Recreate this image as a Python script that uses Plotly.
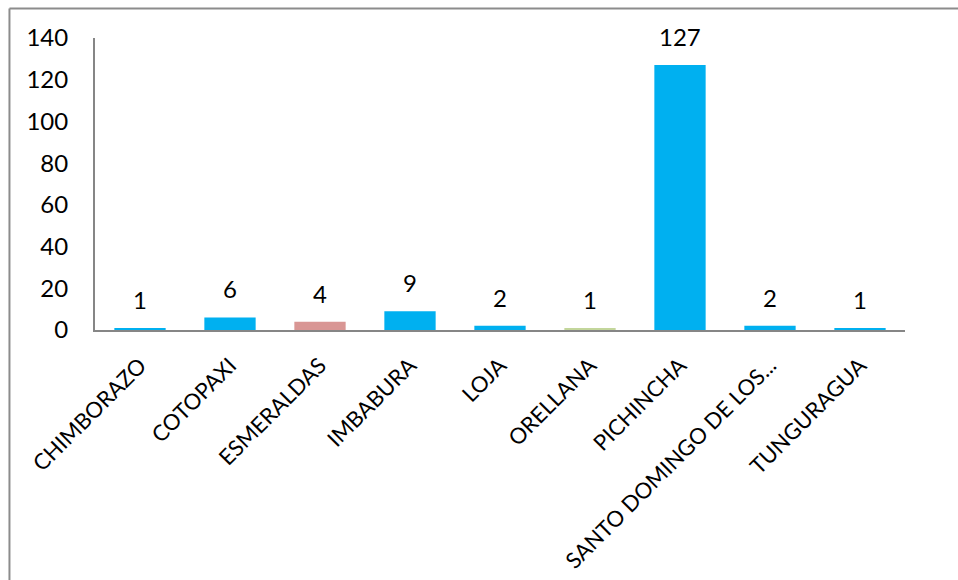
import plotly.graph_objects as go

provincias = ["CHIMBORAZO", "COTOPAXI", "ESMERALDAS", "IMBABURA", "LOJA",
              "ORELLANA", "PICHINCHA", "SANTO DOMINGO DE LOS...", "TUNGURAGUA"]
casos = [1, 6, 4, 9, 2, 1, 127, 2, 1]
colores = ["#00B0F0", "#00B0F0", "#D99694", "#00B0F0", "#00B0F0",
           "#C3D69B", "#00B0F0", "#00B0F0", "#00B0F0"]
y_ticks = [0, 20, 40, 60, 80, 100, 120, 140]

FONT = "Lato, 'Open Sans', sans-serif"

fig = go.Figure(go.Bar(
    x=provincias, y=casos,
    marker=dict(color=colores, line=dict(width=0)),
    hoverinfo="x+y",
))

# value labels above each bar
for p, v in zip(provincias, casos):
    fig.add_annotation(x=p, y=v, text=str(v), showarrow=False,
                       yanchor="bottom", yshift=12,
                       font=dict(family=FONT, size=24, color="#000000"))

# outer chart frame (top and left edges)
frame = dict(color="#8C8C8C", width=2)
fig.add_shape(type="line", xref="paper", yref="paper",
              x0=-0.1056, x1=1.2, y0=1.101, y1=1.101, line=frame)
fig.add_shape(type="line", xref="paper", yref="paper",
              x0=-0.1056, x1=-0.1056, y0=1.101, y1=-1.0, line=frame)

fig.update_layout(
    width=958, height=580,
    margin=dict(l=95, r=53, t=38, b=250),
    paper_bgcolor="white", plot_bgcolor="white",
    bargap=0.43, showlegend=False,
    font=dict(family=FONT, size=22, color="#000000"),
)
fig.update_xaxes(
    showline=True, linecolor="#868686", linewidth=2,
    ticks="", tickangle=-45, showgrid=False, automargin=False,
    tickfont=dict(family=FONT, size=22, color="#000000"),
    ticklabelstandoff=12,
)
fig.update_yaxes(
    range=[0, 140], tickvals=y_ticks, ticktext=[str(t) for t in y_ticks],
    showline=True, linecolor="#868686", linewidth=2,
    showgrid=False, zeroline=False, ticks="", automargin=False,
    tickfont=dict(family=FONT, size=24, color="#000000"),
    ticklabelstandoff=20,
)

fig.write_html("out.html")
